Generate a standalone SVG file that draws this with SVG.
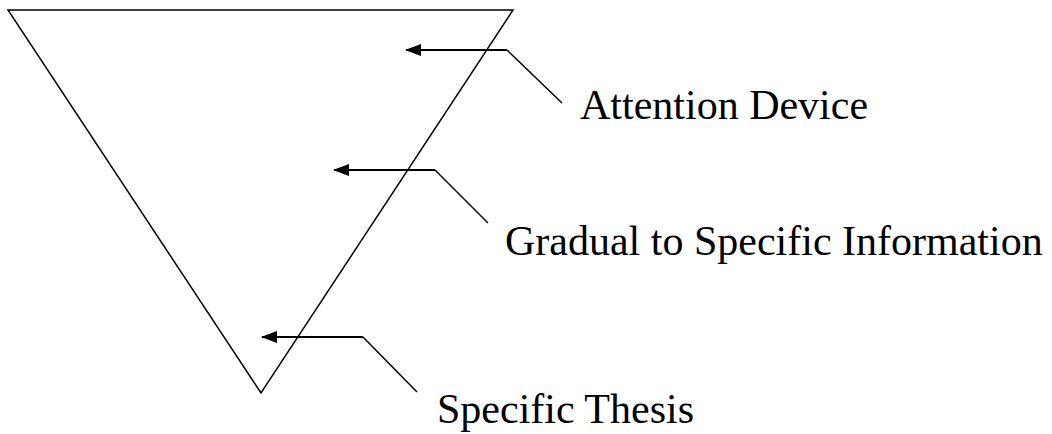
<svg xmlns="http://www.w3.org/2000/svg" width="1052" height="434" viewBox="0 0 1052 434">
<defs>
<style>
.shape{fill:none;stroke:#000;stroke-width:1.5}
.lead{fill:none;stroke:#000;stroke-width:1.5}
.shaft{fill:none;stroke:#000;stroke-width:2}
.label{font-family:"Liberation Serif","Times New Roman",serif;font-size:42px;fill:#000}
</style>
<marker id="ah" markerUnits="userSpaceOnUse" markerWidth="16" markerHeight="12" refX="15" refY="6" orient="auto" viewBox="0 0 16 12">
<path d="M16,6 L0,0 L0,12 Z" fill="#000"/>
</marker>
</defs>
<rect width="1052" height="434" fill="#fff"/>
<g id="triangle">
<polygon class="shape" points="8,10 513,10 261,393"/>
</g>
<g id="connectors">
<polyline class="shaft" points="507,50 406,50" marker-end="url(#ah)"/>
<line class="lead" x1="507" y1="50" x2="562" y2="103"/>
<polyline class="shaft" points="435,170 334,170" marker-end="url(#ah)"/>
<line class="lead" x1="435" y1="170" x2="488" y2="223"/>
<polyline class="shaft" points="363,337 262,337" marker-end="url(#ah)"/>
<line class="lead" x1="363" y1="337" x2="417" y2="392"/>
</g>
<g id="label-attention">
<text class="label" x="580" y="119">Attention Device</text>
</g>
<g id="label-gradual">
<text class="label" x="505" y="255">Gradual to Specific Information</text>
</g>
<g id="label-thesis">
<text class="label" x="437" y="423">Specific Thesis</text>
</g>
</svg>
